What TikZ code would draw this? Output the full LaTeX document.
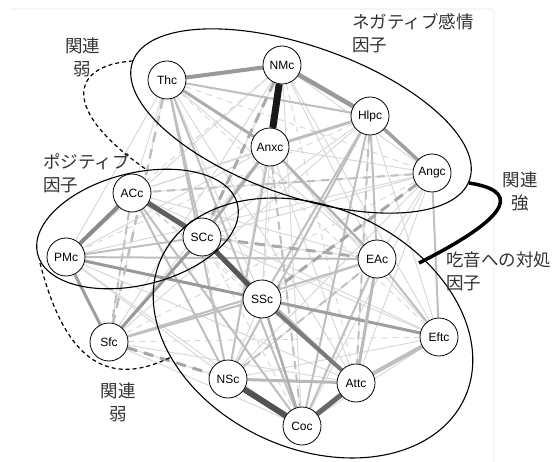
\documentclass[tikz,border=0pt]{standalone}
\usepackage{fontspec}
\setmainfont{Liberation Sans}
\newfontfamily\jpfont{Noto Sans CJK JP}
\pgfdeclarelayer{edgelayer}
\pgfsetlayers{edgelayer,main}
\begin{document}
\begin{tikzpicture}[x=1pt,y=-1pt,
  nd/.style={circle,draw=black,line width=0.8pt,fill=white,minimum size=38pt,inner sep=0pt,font=\fontsize{12}{14}\selectfont},
  lab/.style={font=\jpfont\fontsize{17.5}{23}\selectfont,text=black!80,inner sep=0pt},
  eA/.style={draw=black!15,line width=1pt},
  eAd/.style={eA,dash pattern=on 6pt off 5pt},
  eB/.style={draw=black!25,line width=2pt},
  eBd/.style={eB,dash pattern=on 8pt off 6pt},
  eC/.style={draw=black!38,line width=3pt},
  eCd/.style={eC,dash pattern=on 10pt off 7pt},
  eD/.style={draw=black!62,line width=5pt},
  eE/.style={draw=black!90,line width=7pt},
  grp/.style={draw=black,line width=1.1pt},
  weak/.style={draw=black,line width=1.2pt,dash pattern=on 4pt off 3pt},
  strong/.style={draw=black,line width=3.5pt},
]
\useasboundingbox (0,0) rectangle (556,462);

% nodes
\node[nd] (Thc)  at (167,80)  {Thc};
\node[nd] (NMc)  at (282,65)  {NMc};
\node[nd] (Anxc) at (270,147) {Anxc};
\node[nd] (Hlpc) at (370,116) {Hlpc};
\node[nd] (Angc) at (432,173) {Angc};
\node[nd] (ACc)  at (132,193) {ACc};
\node[nd] (SCc)  at (202,237) {SCc};
\node[nd] (PMc)  at (66,257)  {PMc};
\node[nd] (Sfc)  at (109,342) {Sfc};
\node[nd] (SSc)  at (262,299) {SSc};
\node[nd] (NSc)  at (228,379) {NSc};
\node[nd] (EAc)  at (377,259) {EAc};
\node[nd] (Eftc) at (439,337) {Eftc};
\node[nd] (Attc) at (356,383) {Attc};
\node[nd] (Coc)  at (302,426) {Coc};

\begin{pgfonlayer}{edgelayer}
\fill[white] (0,0) rectangle (556,462);
\draw[black!9,line width=0.8pt,rounded corners=4pt] (10,9) -- (494,9) -- (494,462);
% faint background web
\foreach \a [count=\i] in {Thc,NMc,Anxc,Hlpc,Angc,ACc,SCc,PMc,Sfc,SSc,NSc,EAc,Eftc,Attc,Coc}{
  \foreach \b [count=\j] in {Thc,NMc,Anxc,Hlpc,Angc,ACc,SCc,PMc,Sfc,SSc,NSc,EAc,Eftc,Attc,Coc}{
    \ifnum\i<\j
      \pgfmathtruncatemacro\dd{mod(\i*3+\j*5,4)}
      \ifnum\dd=0
        \draw[eAd] (\a) -- (\b);
      \else
        \draw[eA] (\a) -- (\b);
      \fi
    \fi
  }
}
% light edges
\foreach \a/\b in {PMc/SCc,PMc/EAc,Hlpc/EAc,Angc/Eftc,ACc/NSc,ACc/Coc,Thc/SCc,Thc/NSc,Thc/Coc,Sfc/SSc,EAc/Eftc,Hlpc/NSc,Hlpc/SSc,Hlpc/Coc,SCc/Attc,Thc/Hlpc,Anxc/NSc,Sfc/EAc,EAc/Coc}
  \draw[eB] (\a) -- (\b);
\foreach \a/\b in {ACc/Sfc,Angc/ACc,Hlpc/Attc,NSc/EAc,Anxc/Coc}
  \draw[eBd] (\a) -- (\b);
\draw[eB,line width=3pt] (Hlpc) -- (Anxc);
% medium edges
\draw[eC,draw=black!40,line width=4pt] (Thc) -- (NMc);
\draw[eC,draw=black!40,line width=4.5pt] (NMc) -- (Hlpc);
\draw[eC,draw=black!38,line width=3.5pt] (Hlpc) -- (Angc);
\draw[eC,draw=black!32] (Thc) -- (Anxc);
\draw[eC,draw=black!46,line width=4pt] (ACc) -- (PMc);
\draw[eC,draw=black!40] (PMc) -- (SSc);
\draw[eC,draw=black!38] (PMc) -- (Sfc);
\draw[eC,draw=black!40] (Sfc) -- (SCc);
\draw[eC,draw=black!38] (SSc) -- (Eftc);
\draw[eC,draw=black!32] (Anxc) -- (SCc);
\draw[eC,draw=black!30,line width=2.5pt] (Anxc) -- (EAc);
\draw[eC,draw=black!25,line width=4pt] (Attc) -- (Eftc);
\draw[eC,draw=black!28] (NSc) -- (Attc);
\draw[eC,draw=black!27] (EAc) -- (Attc);
\draw[eC,draw=black!32,line width=2.5pt] (SSc) -- (Coc);
\draw[eCd,draw=black!35] (Sfc) -- (NSc);
\draw[eCd,draw=black!33] (SCc) -- (EAc);
\draw[eCd,draw=black!33] (NMc) -- (SCc);
\draw[eCd,draw=black!35] (Angc) -- (SSc);
\draw[eCd,draw=black!25,line width=2.5pt] (Thc) -- (Sfc);
% strong edges
\draw[eD] (ACc) -- (SCc);
\draw[eD,draw=black!66] (SCc) -- (SSc);
\draw[eD,draw=black!52,line width=4pt] (SSc) -- (Attc);
\draw[eD,draw=black!68,line width=6pt] (NSc) -- (Coc);
\draw[eD,draw=black!60] (Attc) -- (Coc);
\draw[eE] (NMc) -- (Anxc);
\end{pgfonlayer}

% factor groupings
\draw[grp,rotate around={-19.3:(301,121)}] (301,121) ellipse [x radius=178.5pt, y radius=75pt];
\draw[grp,rotate around={14:(137.5,229)}] (137.5,229) ellipse [x radius=103pt, y radius=56pt];
\draw[grp,rotate around={-24.9:(313,328)}] (313,328) ellipse [x radius=167pt, y radius=120.5pt];

% connector ends on the groupings
\coordinate (kA1) at (133,61);
\coordinate (kA2) at (147,170);
\coordinate (kB1) at (40,263);
\coordinate (kB2) at (171,357);
\coordinate (kC1) at (469,183);
\coordinate (kC2) at (419,263);
\draw[weak] (kA1) .. controls (70,65) and (60,110) .. (kA2);
\draw[weak] (kB1) .. controls (60,340) and (95,395) .. (kB2);
\draw[strong] (kC1) .. controls (515,190) and (520,212) .. (kC2);

% labels
\node[lab,align=center] (w1) at (82.5,57.5) {関連\\弱};
\node[lab,align=left,anchor=west] (neg) at (352,33.5) {ネガティブ感情\\因子};
\node[lab,align=left,anchor=west] (pos) at (43,173) {ポジティブ\\因子};
\node[lab,align=center] (s1) at (520,191) {関連\\強};
\node[lab,align=left,anchor=west] (cop) at (446,271) {吃音への対処\\因子};
\node[lab,align=center] (w2) at (118,402) {関連\\弱};
\end{tikzpicture}
\end{document}
